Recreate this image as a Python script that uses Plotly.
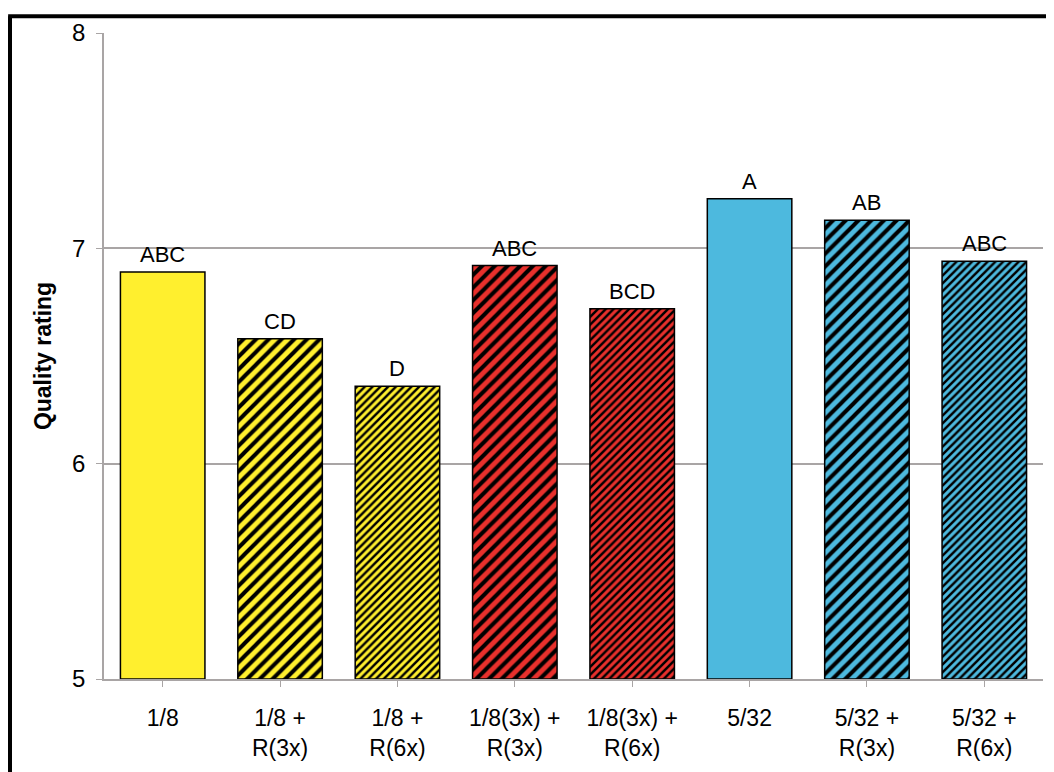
import plotly.graph_objects as go

categories = ["1/8", "1/8 +<br>R(3x)", "1/8 +<br>R(6x)", "1/8(3x) +<br>R(3x)",
              "1/8(3x) +<br>R(6x)", "5/32", "5/32 +<br>R(3x)", "5/32 +<br>R(6x)"]
values = [6.89, 6.58, 6.36, 6.92, 6.72, 7.23, 7.13, 6.94]
letters = ["ABC", "CD", "D", "ABC", "BCD", "A", "AB", "ABC"]
fill_colors = ["#FFEF2E", "#FFEF2E", "#FFEF2E", "#E8302C", "#E8302C",
               "#4DB9DE", "#4DB9DE", "#4DB9DE"]
pattern_shapes = ["", "/", "/", "/", "/", "", "/", "/"]
pattern_sizes = [8, 9, 5.5, 9, 5.5, 8, 9, 5.5]
y_ticks = [5, 6, 7, 8]

FONT = "Liberation Sans, Arial, sans-serif"
x = list(range(len(categories)))

W, H = 1046, 764
L, R, T, B = 96, 11, 18, 92
PW, PH = W - L - R, H - T - B

fig = go.Figure()
for xi, v, col, shp, sz in zip(x, values, fill_colors, pattern_shapes, pattern_sizes):
    pat = dict(shape=shp, size=sz, solidity=0.45, fgcolor="#000000",
               bgcolor=col, fgopacity=1, fillmode="replace")
    fig.add_trace(go.Bar(
        x=[xi], y=[v - 5], base=5,
        marker=dict(color=col, line=dict(color="black", width=1.5), pattern=pat),
        width=0.72,
        hoverinfo="skip",
    ))

for xi, v, t in zip(x, values, letters):
    fig.add_annotation(x=xi, y=v, text=t, showarrow=False, yanchor="bottom",
                       yshift=3, font=dict(family=FONT, size=22, color="black"))

gridc = "#A9A5A5"
fig.update_layout(
    width=W, height=H,
    margin=dict(l=L, r=R, t=T, b=B),
    paper_bgcolor="white", plot_bgcolor="white",
    showlegend=False, barmode="overlay",
    font=dict(family=FONT, color="black"),
    xaxis=dict(
        tickmode="array", tickvals=x, ticktext=categories,
        range=[-0.5, len(categories) - 0.5],
        showline=True, linecolor=gridc, linewidth=1.5,
        ticks="outside", tickson="boundaries", ticklen=6, tickcolor=gridc,
        tickfont=dict(family=FONT, size=23, color="black"),
        ticklabelstandoff=12,
        showgrid=False, zeroline=False,
    ),
    yaxis=dict(
        range=[5, 8], tickvals=y_ticks,
        showline=True, linecolor=gridc, linewidth=1.5,
        ticks="outside", ticklen=6, tickcolor=gridc,
        tickfont=dict(family=FONT, size=24, color="black"),
        ticklabelstandoff=6,
        showgrid=True, gridcolor=gridc, gridwidth=1.5,
        zeroline=False,
        title=dict(text="<b>Quality rating</b>", font=dict(family=FONT, size=23),
                   standoff=14),
    ),
)

# outer frame (left and top black border)
fx = (2 - L) / PW
fy = (H - B - 1) / PH
fig.add_shape(type="line", xref="paper", yref="paper",
              x0=fx, x1=fx, y0=-0.3, y1=fy,
              line=dict(color="black", width=4))
fig.add_shape(type="line", xref="paper", yref="paper",
              x0=fx - 0.002, x1=1.1, y0=fy, y1=fy,
              line=dict(color="black", width=4))

fig.write_html("out.html")
